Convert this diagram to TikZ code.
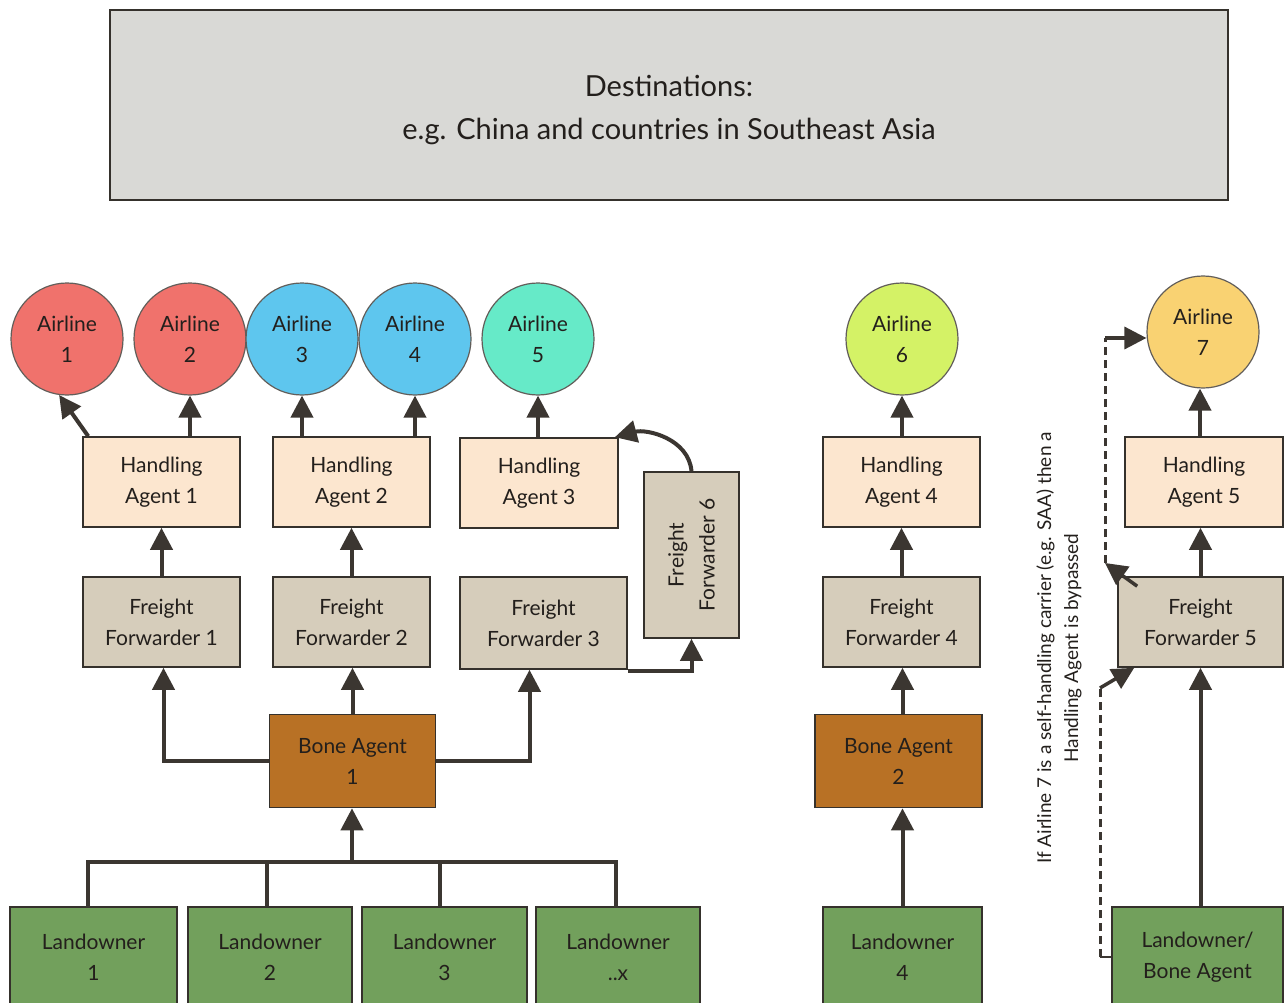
\documentclass[tikz,border=0pt]{standalone}
\usepackage{fontspec}
\setmainfont{Lato}
\usetikzlibrary{arrows.meta}
\definecolor{topgray}{HTML}{D9D9D6}
\definecolor{peach}{HTML}{FCE6CF}
\definecolor{ffgray}{HTML}{D6CDBB}
\definecolor{bonebrown}{HTML}{B87125}
\definecolor{landgreen}{HTML}{72A05C}
\definecolor{cred}{HTML}{F0726C}
\definecolor{cblue}{HTML}{5EC6EE}
\definecolor{cteal}{HTML}{66EAC8}
\definecolor{clime}{HTML}{D4F266}
\definecolor{cgold}{HTML}{F9D272}
\definecolor{ink}{HTML}{3B3631}
\definecolor{txt}{HTML}{231F1C}
\begin{document}
\begin{tikzpicture}[x=1pt,y=-1pt,
  basebox/.style={draw=ink!90!black, line width=1.6pt, inner sep=0pt, align=center,
     font=\fontsize{21}{31}\selectfont, text=txt},
  hbox/.style={basebox, fill=peach, minimum width=157pt, minimum height=90pt},
  fbox/.style={basebox, fill=ffgray, minimum width=157pt, minimum height=90pt},
  bbox/.style={basebox, fill=bonebrown, minimum width=166pt, minimum height=93pt},
  lbox/.style={basebox, fill=landgreen, minimum width=165pt, minimum height=100pt},
  air/.style={circle, draw=ink!80, line width=1.2pt, minimum size=112pt, inner sep=0pt,
     align=center, font=\fontsize{21}{31}\selectfont, text=txt},
  conn/.style={draw=ink, line width=4pt},
  arr/.style={conn, -{Triangle[length=22pt,width=22pt]}},
  dashline/.style={draw=ink, line width=3pt, dash pattern=on 8pt off 5pt}]
\useasboundingbox (0,0) rectangle (1285,1003);
\clip (0,0) rectangle (1285,1003);
\fill[white] (0,0) rectangle (1285,1003);

% title box
\node[basebox, fill=topgray, line width=2.2pt, minimum width=1118pt, minimum height=190pt] (dest) at (669,105) {};
\node[align=center, font=\fontsize{29}{43}\selectfont, text=txt] (desttxt) at (669,110)
  {Destinations:\\e.g. China and countries in Southeast Asia};

% airlines
\node[air, fill=cred]  (a1) at (67,339)  {Airline\\1};
\node[air, fill=cred]  (a2) at (190,339) {Airline\\2};
\node[air, fill=cblue] (a3) at (302,339) {Airline\\3};
\node[air, fill=cblue] (a4) at (415,339) {Airline\\4};
\node[air, fill=cteal] (a5) at (538,339) {Airline\\5};
\node[air, fill=clime] (a6) at (902,339) {Airline\\6};
\node[air, fill=cgold] (a7) at (1203,332) {Airline\\7};

% handling agents
\node[hbox] (ha1) at (161.5,482) {Handling\\Agent 1};
\node[hbox] (ha2) at (351.5,482) {Handling\\Agent 2};
\node[hbox, minimum width=158pt] (ha3) at (539,483) {Handling\\Agent 3};
\node[hbox] (ha4) at (901.5,482) {Handling\\Agent 4};
\node[hbox, minimum width=158pt] (ha5) at (1204,482) {Handling\\Agent 5};

% freight forwarders
\node[fbox] (ff1) at (161.5,622) {Freight\\Forwarder 1};
\node[fbox] (ff2) at (351.5,622) {Freight\\Forwarder 2};
\node[fbox, minimum width=167pt, minimum height=92pt] (ff3) at (543.5,623) {Freight\\Forwarder 3};
\node[fbox, minimum width=95pt, minimum height=166pt] (ff6) at (691.5,555) {};
\node[rotate=90, align=center, font=\fontsize{21}{31}\selectfont, text=txt] (ff6txt) at (ff6.center) {Freight\\Forwarder 6};
\node[fbox] (ff4) at (901.5,622) {Freight\\Forwarder 4};
\node[fbox, minimum width=165pt] (ff5) at (1200.5,622) {Freight\\Forwarder 5};

% bone agents
\node[bbox] (ba1) at (352.5,761) {Bone Agent\\1};
\node[bbox, minimum width=167pt] (ba2) at (898.5,761) {Bone Agent\\2};

% landowners
\node[lbox, minimum width=167pt] (lo1) at (93.5,957) {Landowner\\1};
\node[lbox, minimum width=164pt] (lo2) at (270,957) {Landowner\\2};
\node[lbox] (lo3) at (444.5,957) {Landowner\\3};
\node[lbox, minimum width=164pt] (lox) at (618,957) {Landowner\\..x};
\node[lbox, minimum width=159pt] (lo4) at (902.5,957) {Landowner\\4};
\node[lbox, minimum width=171pt] (loba) at (1197.5,957) {Landowner/\\Bone Agent};

% note
\node[rotate=90, align=center, font=\fontsize{19}{27}\selectfont, text=txt] (note) at (1059,648)
  {If Airline 7 is a self-handling carrier (e.g. SAA) then a\\Handling Agent is bypassed};

% handling agents to airlines
\draw[arr] ([xshift=6pt]ha1.north west) -- (a1.262);
\draw[arr] (a2 |- ha1.north) -- (a2.south);
\draw[arr] (a3 |- ha2.north) -- (a3.south);
\draw[arr] (a4 |- ha2.north) -- (a4.south);
\draw[arr] (a5 |- ha3.north) -- (a5.south);
\draw[arr] (a6 |- ha4.north) -- (a6.south);
\draw[arr] ([xshift=-3pt]a7.south |- ha5.north) -- ([xshift=-3pt]a7.south);

% freight forwarders to handling agents
\draw[arr] (ff1.north) -- (ha1.south);
\draw[arr] (ff2.north) -- (ha2.south);
\draw[arr] (ff4.north) -- (ha4.south);
\draw[arr] (ff5.north) -- (ff5.north |- ha5.south);
\draw[arr] (ff6.north) to[out=95,in=15] ([xshift=-4pt]ha3.north east);
\draw[arr] ([yshift=-1pt]ff3.south east) -| (ff6.south);

% bone agent 1
\draw[arr] (ba1.north) -- (ba1.north |- ff2.south);
\draw[arr] (ba1.west) -| ([xshift=2pt]ff1.south);
\draw[arr] (ba1.east) -| ([xshift=-14pt]ff3.south);

% landowners bus
\coordinate (bus) at (352,862);
\draw[conn, line cap=rect] ([xshift=-6pt]lo1.north) |- ([xshift=-2pt]lox.north |- bus) -- ([xshift=-2pt]lox.north);
\draw[conn] ([xshift=-3pt]lo2.north) -- ([xshift=-3pt]lo2.north |- bus);
\draw[conn] ([xshift=-5pt]lo3.north) -- ([xshift=-5pt]lo3.north |- bus);
\draw[arr] (bus) -- (bus |- ba1.south);

% column 4
\draw[arr] (lo4.north) -- (lo4.north |- ba2.south);
\draw[arr] (lo4.north |- ba2.north) -- (lo4.north |- ff4.south);

% column 5
\draw[arr] (ff5.south |- loba.north) -- (ff5.south);
\coordinate (dlow) at (1100,688);
\coordinate (dhigh) at (1105,563);
\coordinate (dtop) at (1105,338);
\draw[draw=ink, line width=2pt] (loba.west) -- (dlow |- loba.west);
\draw[dashline] (dlow |- loba.west) -- (dlow);
\draw[arr, line width=3.5pt] (dlow) -- ([xshift=17pt]ff5.south west);
\draw[arr, line width=3.5pt] ([xshift=20pt,yshift=-10pt]ff5.north west) -- (dhigh);
\draw[dashline] (dhigh) -- (dtop);
\draw[arr, line width=3.5pt] (dtop) -- (a7.west |- dtop);
\end{tikzpicture}
\end{document}
